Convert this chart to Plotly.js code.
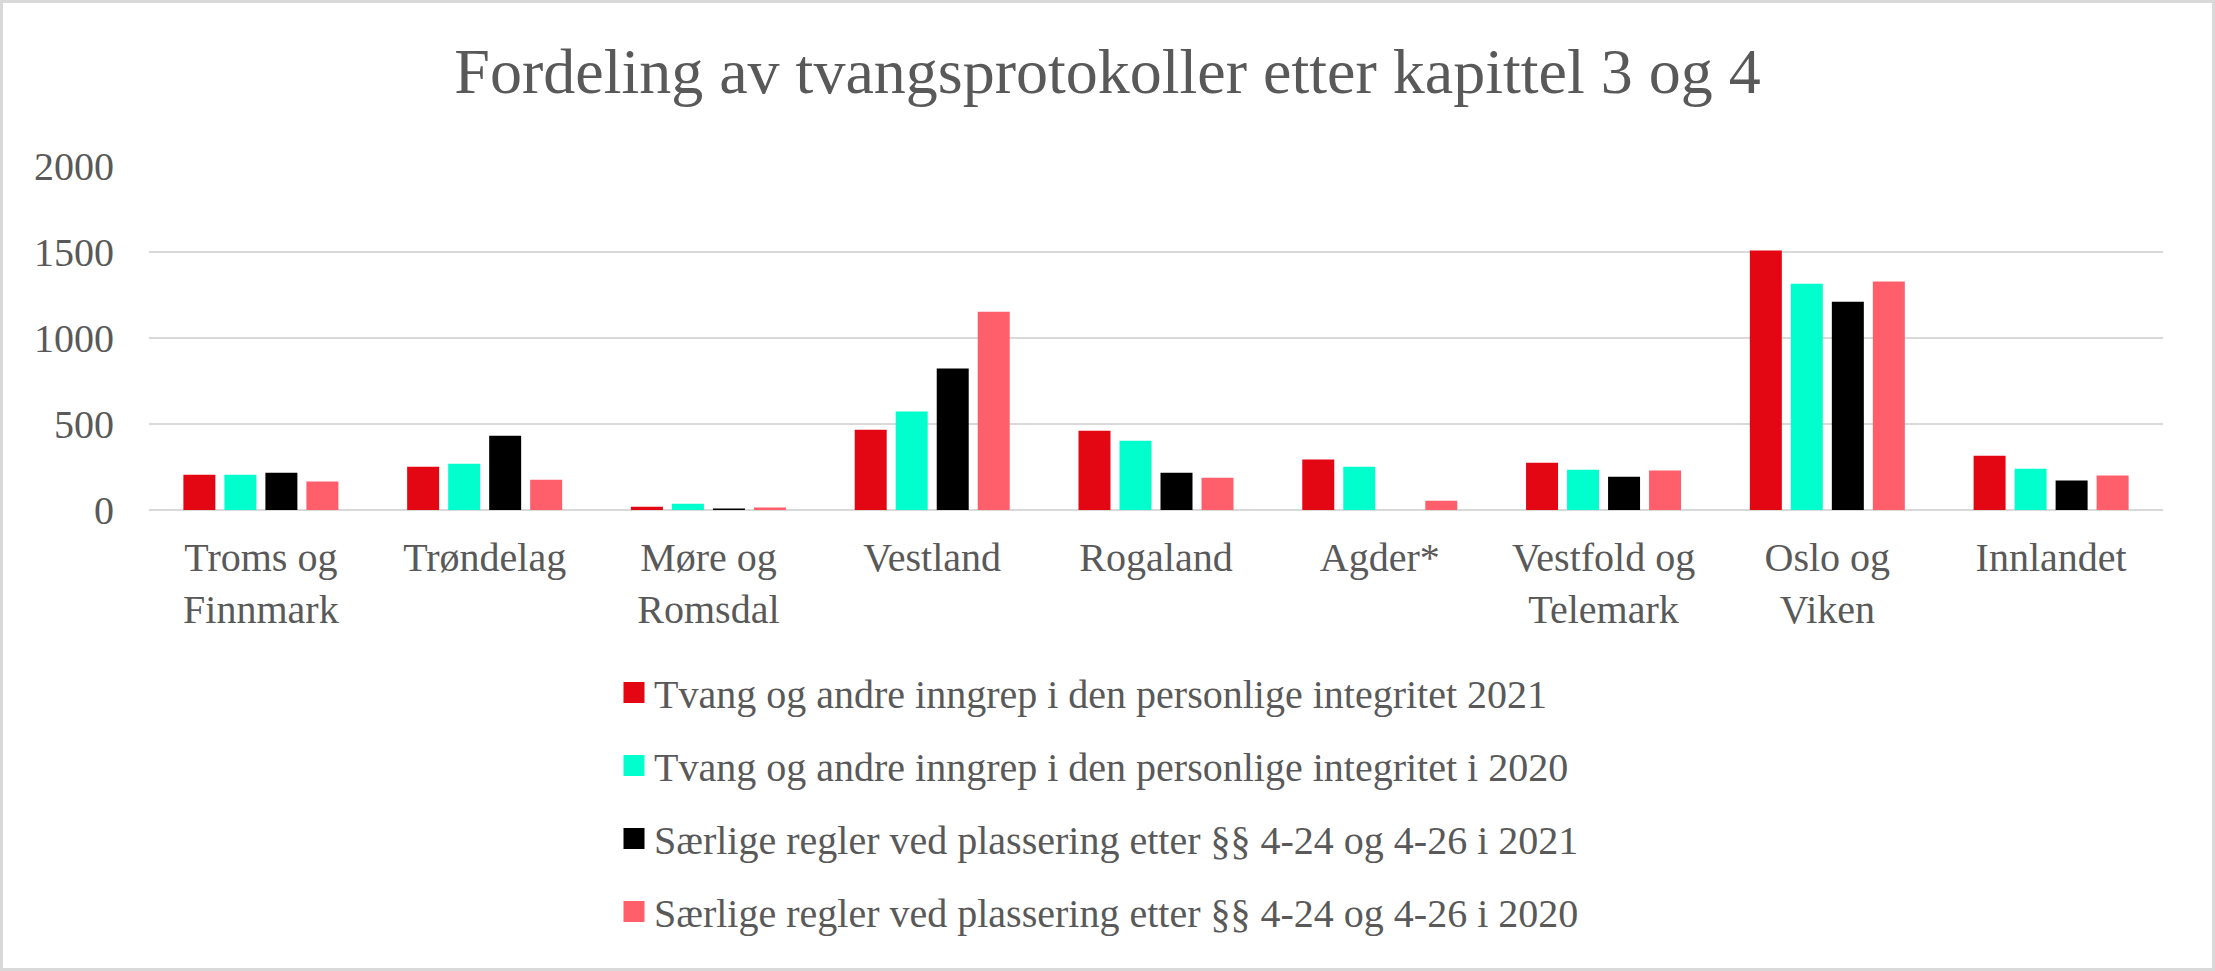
<!DOCTYPE html>
<html>
<head>
<meta charset="utf-8">
<script src="https://cdn.plot.ly/plotly-3.0.1.min.js"></script>
<style>
    body { margin: 0; background: #ffffff; }
    #wrap { position: relative; width: 2215px; height: 971px; }
    #chart { width: 2215px; height: 971px; }
    #frame { position: absolute; left: 0; top: 0; width: 2215px; height: 971px;
             box-sizing: border-box; border: 3px solid #d9d9d9; pointer-events: none; }
</style>
</head>
<body>
<div id="wrap">
    <div id="chart"></div>
    <div id="frame"></div>
</div>
<script>
// Regions (x axis categories)
const regions = ['Troms og<br>Finnmark', 'Trøndelag', 'Møre og<br>Romsdal', 'Vestland', 'Rogaland',
                 'Agder*', 'Vestfold og<br>Telemark', 'Oslo og<br>Viken', 'Innlandet'];

// Series values
const tvang2021 = [205, 252, 19, 467, 461, 293, 275, 1508, 316];
const tvang2020 = [205, 269, 37, 572, 403, 252, 234, 1316, 240];
const saerlige2021 = [217, 432, 8, 822, 217, null, 194, 1211, 171];
const saerlige2020 = [165, 176, 14, 1153, 188, 54, 229, 1328, 200];

const seriesNames = [
    'Tvang og andre inngrep i den personlige integritet 2021',
    'Tvang og andre inngrep i den personlige integritet i 2020',
    'Særlige regler ved plassering etter §§ 4-24 og 4-26 i 2021',
    'Særlige regler ved plassering etter §§ 4-24 og 4-26 i 2020'
];
const seriesColors = ['#e30613', '#00ffcc', '#000000', '#ff5f6a'];
const yTicks = [0, 500, 1000, 1500, 2000];

const textColor = '#595959';
const fontFamily = '"Liberation Serif", "Times New Roman", serif';

const allValues = [tvang2021, tvang2020, saerlige2021, saerlige2020];

// the bars themselves
const barTraces = allValues.map((vals, i) => ({
    type: 'bar',
    x: regions,
    y: vals,
    name: seriesNames[i],
    showlegend: false,
    marker: { color: seriesColors[i] },
    hoverinfo: 'skip'
}));

// legend-only entries so the legend squares can be as big as Excel's
const legendTraces = seriesNames.map((name, i) => ({
    type: 'scatter',
    mode: 'markers',
    x: [null],
    y: [null],
    name: name,
    legendgroup: 'g' + i,
    marker: { symbol: 'square', size: 16, color: seriesColors[i],
              line: { color: seriesColors[i], width: 5 } },
    hoverinfo: 'skip'
}));

const layout = {
    width: 2215,
    height: 971,
    paper_bgcolor: '#ffffff',
    plot_bgcolor: '#ffffff',
    font: { family: fontFamily, color: textColor, size: 40 },
    title: {
        text: 'Fordeling av tvangsprotokoller etter kapittel 3 og 4',
        font: { family: fontFamily, size: 64, color: textColor },
        x: 0.5,
        xanchor: 'center',
        y: 1 - 71 / 971,
        yanchor: 'middle'
    },
    margin: { l: 149, r: 52, t: 166, b: 461, autoexpand: false },
    barmode: 'group',
    bargap: 0.267,
    bargroupgap: 0.22,
    showlegend: true,
    legend: {
        orientation: 'v',
        xref: 'container',
        yref: 'container',
        x: 614 / 2215,
        xanchor: 'left',
        y: 1 - 660 / 971,
        yanchor: 'top',
        font: { family: fontFamily, size: 40, color: textColor },
        traceorder: 'grouped',
        tracegroupgap: 18,
        bgcolor: 'rgba(0,0,0,0)'
    },
    xaxis: {
        type: 'category',
        showgrid: false,
        showline: false,
        ticks: '',
        tickangle: 0,
        ticklabelstandoff: 20,
        tickfont: { family: fontFamily, size: 40, color: textColor },
        fixedrange: true
    },
    yaxis: {
        range: [0, 2000],
        tickvals: yTicks,
        showgrid: true,
        gridcolor: '#d9d9d9',
        gridwidth: 2,
        zeroline: true,
        zerolinecolor: '#d9d9d9',
        zerolinewidth: 2,
        showline: false,
        ticks: '',
        ticklabelstandoff: 34,
        tickfont: { family: fontFamily, size: 40, color: textColor },
        fixedrange: true
    },
    hovermode: false
};

Plotly.newPlot('chart', barTraces.concat(legendTraces), layout, { displayModeBar: false, staticPlot: true });
</script>
</body>
</html>
